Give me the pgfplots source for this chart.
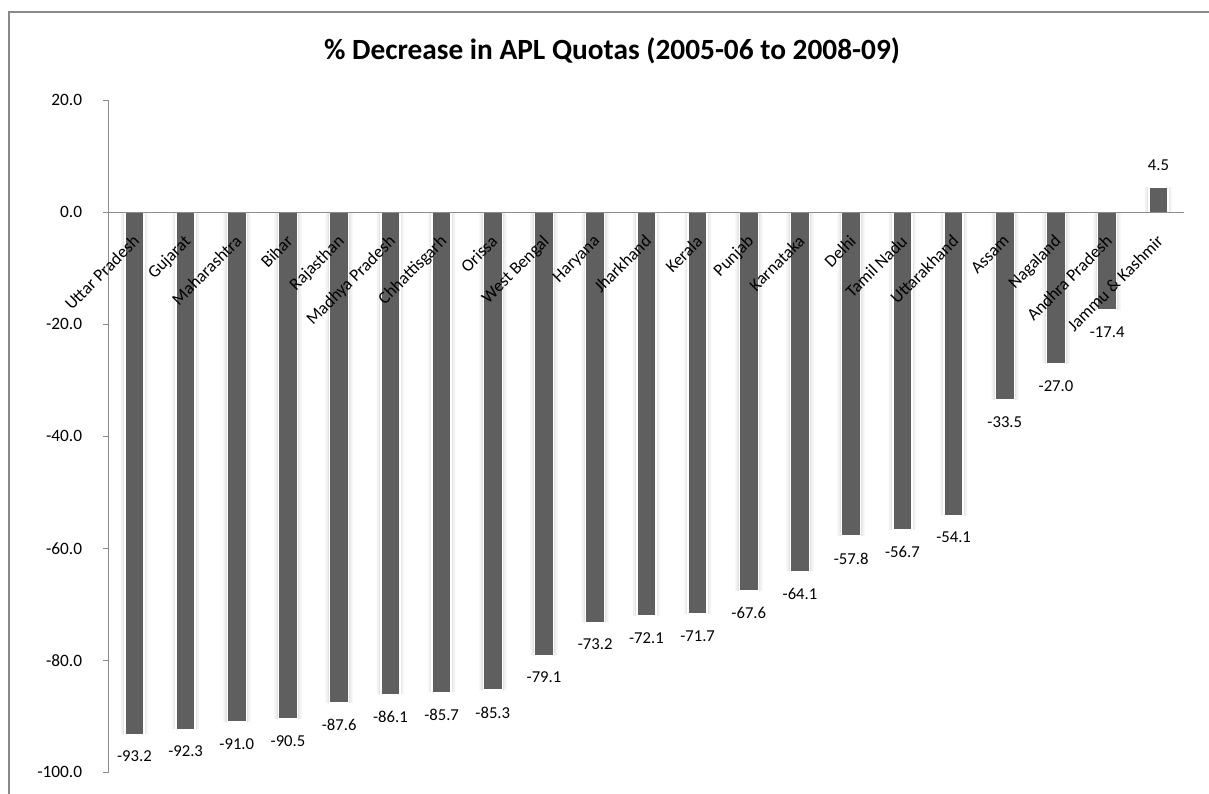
\documentclass[border=0pt]{standalone}
\usepackage{fontspec}
\setmainfont{Carlito}
\usepackage{pgfplots}
\usepackage{pgfplotstable}
\pgfplotsset{compat=1.18}

\definecolor{bargray}{RGB}{95,95,95}
\definecolor{axisgray}{RGB}{140,140,140}
\definecolor{framegray}{RGB}{136,136,136}

% % change 2005-06 -> 2008-09, states in chart order
\pgfplotstableread{
idx val
0  -93.2
1  -92.3
2  -91.0
3  -90.5
4  -87.6
5  -86.1
6  -85.7
7  -85.3
8  -79.1
9  -73.2
10 -72.1
11 -71.7
12 -67.6
13 -64.1
14 -57.8
15 -56.7
16 -54.1
17 -33.5
18 -27.0
19 -17.4
20 4.5
}\quotas

\begin{document}
\begin{tikzpicture}[x=0.75pt,y=0.75pt]
\useasboundingbox (0,0) rectangle (1209,793);
\draw[framegray, line width=1.5pt] (9,-5) -- (9,781) -- (1215,781);
\node[font=\fontsize{22}{26}\selectfont\bfseries] at (612,742)
  {\% Decrease in APL Quotas (2005-06 to 2008-09)};
\begin{axis}[
  at={(81.6pt,15.5pt)}, anchor=south west,
  scale only axis, width=806.4pt, height=504pt,
  xmin=-0.5, xmax=20.5, ymin=-100, ymax=20,
  axis x line*=middle, axis y line*=left,
  axis on top,
  hide obscured x ticks=false, hide obscured y ticks=false,
  axis line style={axisgray, line width=0.9pt},
  ybar,
  ytick={-100,-80,...,20},
  yticklabel={\pgfmathprintnumber[fixed,fixed zerofill,precision=1,assume math mode=true]{\tick}},
  yticklabel style={font=\fontsize{13}{15}\selectfont, xshift=-12pt},
  ytick style={axisgray, line width=0.8pt},
  xtick={0,...,20},
  xticklabels={Uttar Pradesh, Gujarat, Maharashtra, Bihar, Rajasthan, Madhya Pradesh,
    Chhattisgarh, Orissa, West Bengal, Haryana, Jharkhand, Kerala, Punjab, Karnataka,
    Delhi, Tamil Nadu, Uttarakhand, Assam, Nagaland, Andhra Pradesh, Jammu \& Kashmir},
  xticklabel style={font=\fontsize{13}{15}\selectfont, xshift=-2pt, yshift=-11.5pt,
    rotate=45, anchor=north east, inner sep=0pt},
  xtick style={draw=none},
  minor xtick={-0.5,0.5,...,20.5},
  minor x tick style={axisgray, line width=0.8pt},
  tick align=outside,
  major tick length=4.5pt, minor tick length=4.5pt,
  clip=false,
]
\addplot[fill=gray!10, draw=none, bar width=0.52, bar shift=0pt] table[x=idx,y=val]{\quotas};
\addplot[fill=gray!22, draw=none, bar width=0.44, bar shift=0pt] table[x=idx,y=val]{\quotas};
\addplot[fill=bargray, draw=white, line width=1pt, bar width=0.37, bar shift=0pt,
  nodes near coords={\pgfmathprintnumber[fixed,fixed zerofill,precision=1,assume math mode=true]{\pgfplotspointmeta}},
  every node near coord/.append style={font=\fontsize{12.5}{14}\selectfont, black, inner ysep=12pt},
] table[x=idx,y=val]{\quotas};
\end{axis}
\end{tikzpicture}
\end{document}
